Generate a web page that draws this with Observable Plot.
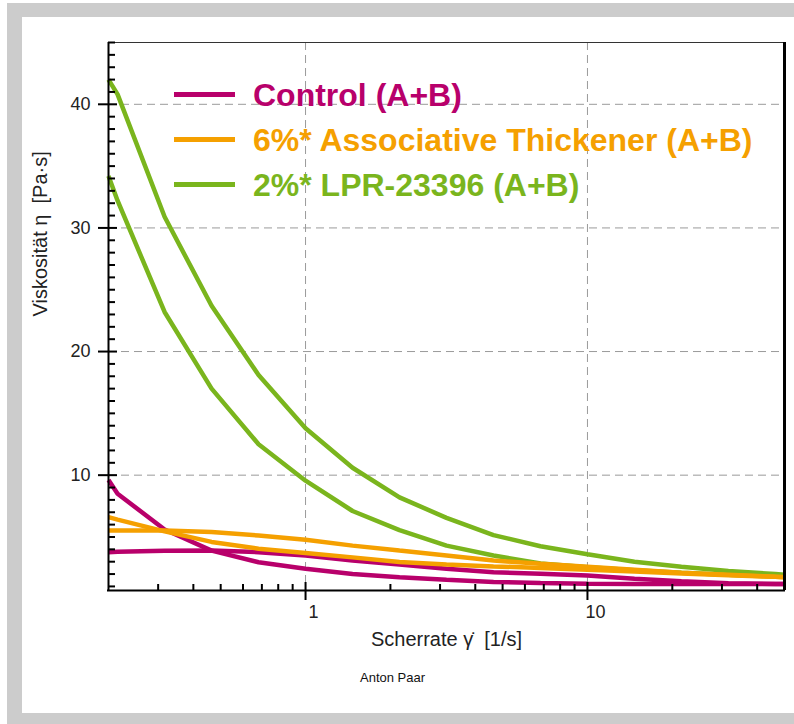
<!DOCTYPE html>
<html>
<head>
<meta charset="utf-8">
<script src="https://cdn.jsdelivr.net/npm/d3@7"></script>
<script src="https://cdn.jsdelivr.net/npm/@observablehq/plot@0.6"></script>
<style>
  body { margin: 0; background: #fff; font-family: "Liberation Sans", Arial, sans-serif; }
  #wrap { position: relative; width: 794px; height: 724px; overflow: hidden; }
  #outer { position: absolute; left: 7px; top: 3px; right: 0; bottom: 0; background: #cccccc; }
  #inner { position: absolute; left: 22px; top: 17px; right: 0; height: 696px; background: #ffffff; }
  #chart { position: absolute; left: 0; top: 0; }
  #legend { position: absolute; left: 174px; top: 72px; }
  .row { display: flex; align-items: center; height: 45px; }
  .sw { width: 61px; height: 5px; margin-right: 18px; }
  .lab { font-weight: bold; font-size: 32px; line-height: 32px; white-space: nowrap; }
</style>
</head>
<body>
<div id="wrap">
  <div id="outer"></div>
  <div id="inner"></div>
  <div id="chart"></div>
  <div id="legend"></div>
</div>
<script>
// ---- data ----
const seriesNames = ["Control (A+B)", "6%* Associative Thickener (A+B)", "2%* LPR-23396 (A+B)"];
const seriesColors = ["#b8006b", "#f5a000", "#7ab51d"];

const shearRate = [0.2, 0.2154, 0.3162, 0.4642, 0.6813, 1, 1.468, 2.154, 3.162, 4.642, 6.813, 10, 14.68, 21.54, 31.62, 46.42, 50];

const control1 = [9.6, 8.5, 5.6, 3.9, 2.96, 2.43, 2.0, 1.75, 1.54, 1.36, 1.27, 1.21, 1.2, 1.2, 1.2, 1.2, 1.2];
const control2 = [3.77, 3.8, 3.88, 3.9, 3.77, 3.5, 3.1, 2.77, 2.43, 2.15, 2.02, 1.89, 1.62, 1.42, 1.26, 1.2, 1.2];
const thick1 = [6.6, 6.4, 5.45, 4.6, 4.05, 3.7, 3.35, 2.98, 2.77, 2.62, 2.5, 2.35, 2.2, 2.05, 1.9, 1.78, 1.75];
const thick2 = [5.53, 5.53, 5.53, 5.4, 5.12, 4.77, 4.3, 3.9, 3.5, 3.1, 2.83, 2.6, 2.35, 2.1, 1.94, 1.78, 1.75];
const lpr1 = [42.0, 40.8, 30.9, 23.7, 18.1, 13.8, 10.6, 8.2, 6.55, 5.15, 4.25, 3.6, 3.0, 2.6, 2.25, 2.0, 1.95];
const lpr2 = [34.2, 32.2, 23.2, 17.0, 12.5, 9.55, 7.1, 5.55, 4.3, 3.5, 2.85, 2.55, 2.3, 2.1, 1.95, 1.8, 1.78];

const xDomain = [0.2, 50];
const yDomain = [0.67, 45];
const xMajor = [1, 10];
const xMinor = [0.3, 0.4, 0.5, 0.6, 0.7, 0.8, 0.9, 2, 3, 4, 5, 6, 7, 8, 9, 20, 30, 40];
const yMajor = [10, 20, 30, 40];
const yMinor = d3.range(1, 46).filter(v => v % 10 !== 0);

const xTitle = "Scherrate \u03B3\u0307  [1/s]";
const yTitle = "Viskosit\u00E4t \u03B7  [Pa\u00B7s]";
const credit = "Anton Paar";

// ---- build table (draw order: green, magenta, orange) ----
const curves = [
  {id: "lpr1", s: seriesNames[2], v: lpr1},
  {id: "lpr2", s: seriesNames[2], v: lpr2},
  {id: "c1", s: seriesNames[0], v: control1},
  {id: "c2", s: seriesNames[0], v: control2},
  {id: "t1", s: seriesNames[1], v: thick1},
  {id: "t2", s: seriesNames[1], v: thick2}
];
const rows = curves.flatMap(c => c.v.map((y, i) => ({id: c.id, series: c.s, x: shearRate[i], y})));

const W = 794, H = 724;
const mL = 108, mT = 42, mR = 10, mB = 134;
const pw = W - mL - mR, ph = H - mT - mB;
const font = "Liberation Sans, Arial, sans-serif";

const chart = Plot.plot({
  width: W,
  height: H,
  marginLeft: mL, marginTop: mT, marginRight: mR, marginBottom: mB,
  style: {background: "transparent", fontFamily: font, overflow: "visible"},
  x: {type: "log", domain: xDomain, axis: null},
  y: {domain: yDomain, axis: null},
  color: {domain: seriesNames, range: seriesColors},
  marks: [
    // grid
    Plot.ruleX(xMajor, {stroke: "#9a9a9a", strokeWidth: 1, strokeDasharray: "8,5"}),
    Plot.ruleY(yMajor, {stroke: "#9a9a9a", strokeWidth: 1, strokeDasharray: "8,5"}),
    // curves
    Plot.line(rows, {x: "x", y: "y", z: "id", stroke: "series", strokeWidth: 4.5, strokeLinejoin: "miter", strokeLinecap: "butt"}),
    // frame
    Plot.ruleY([yDomain[1]], {stroke: "#333", strokeWidth: 1}),
    Plot.ruleX([xDomain[1]], {stroke: "#000", strokeWidth: 3}),
    Plot.ruleX([xDomain[0]], {stroke: "#000", strokeWidth: 2, insetBottom: -1}),
    Plot.ruleY([yDomain[0]], {stroke: "#000", strokeWidth: 2, insetLeft: -1, insetRight: -1}),
    // ticks
    Plot.ruleY(yMinor, {stroke: "#000", strokeWidth: 2, insetRight: pw - 7}),
    Plot.ruleY(yMajor, {stroke: "#000", strokeWidth: 2, insetLeft: -10, insetRight: pw - 9}),
    Plot.ruleX(xMinor, {stroke: "#000", strokeWidth: 2, insetTop: ph - 6}),
    Plot.ruleX(xMajor, {stroke: "#000", strokeWidth: 2, insetTop: ph - 8, insetBottom: -10}),
    // tick labels
    Plot.text(yMajor, {x: xDomain[0], y: d => d, text: d => String(d), textAnchor: "end", dx: -18, fontSize: 18, fill: "#222"}),
    Plot.text(xMajor, {x: d => d, y: yDomain[0], text: d => String(d), dx: 8, dy: 22, fontSize: 18, fill: "#222"}),
    // axis titles
    Plot.text([xTitle], {frameAnchor: "bottom", text: d => d, dy: 55, fontSize: 20, fill: "#222"}),
    Plot.text([yTitle], {frameAnchor: "left", text: d => d, dx: -68, rotate: -90, fontSize: 20, fill: "#222"}),
    Plot.text([credit], {frameAnchor: "bottom", text: d => d, dx: -54, dy: 91, fontSize: 13, fill: "#111"})
  ]
});
document.getElementById("chart").appendChild(chart);

// ---- legend ----
const legend = document.getElementById("legend");
seriesNames.forEach((name, i) => {
  const row = document.createElement("div");
  row.className = "row";
  const sw = document.createElement("span");
  sw.className = "sw";
  sw.style.background = seriesColors[i];
  const lab = document.createElement("span");
  lab.className = "lab";
  lab.style.color = seriesColors[i];
  lab.textContent = name;
  row.appendChild(sw);
  row.appendChild(lab);
  legend.appendChild(row);
});
</script>
</body>
</html>
